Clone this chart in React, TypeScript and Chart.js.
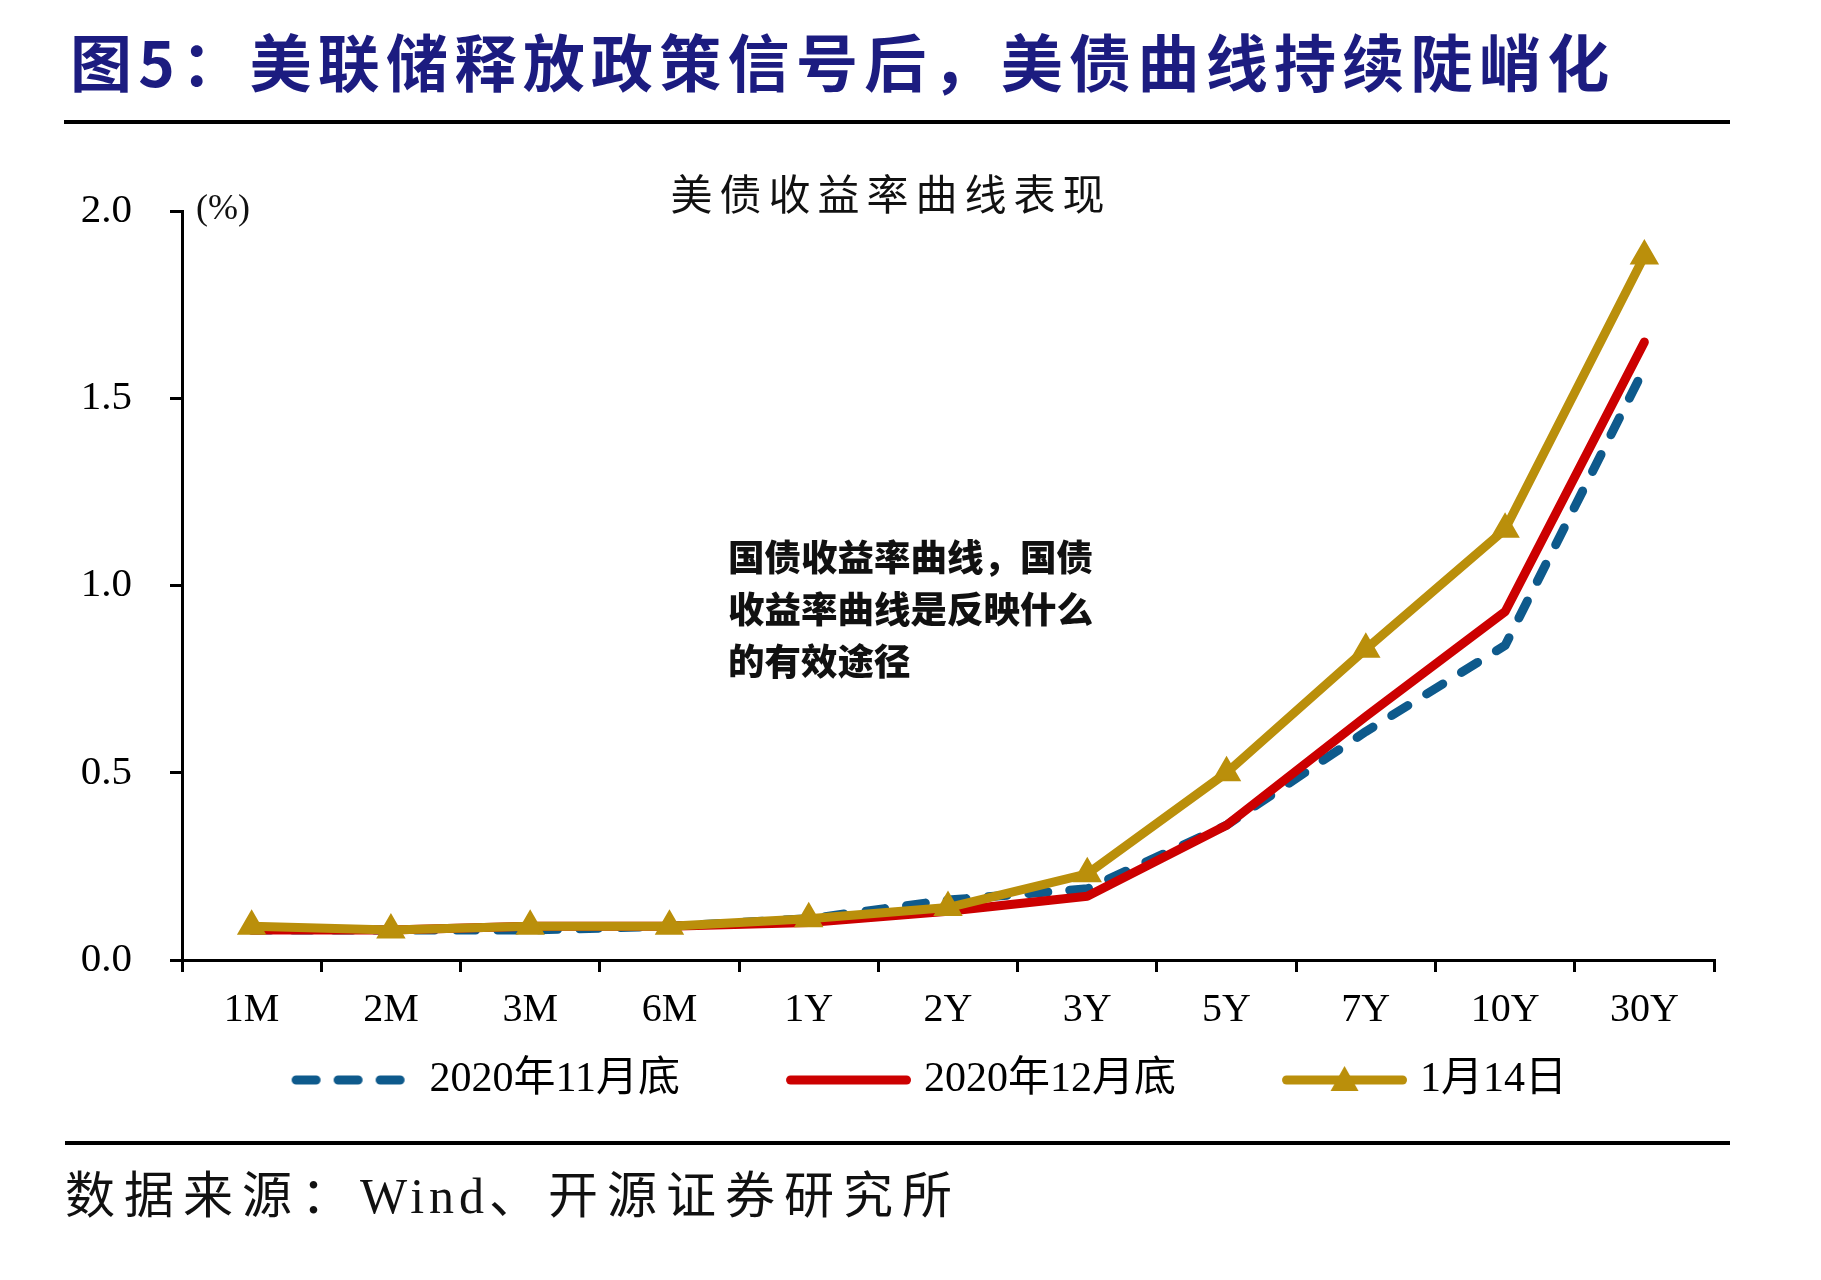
import React, { useEffect, useRef } from 'react';
import { Chart, registerables } from 'chart.js';

Chart.register(...registerables);

// ---- Data ----
const categories = ['1M', '2M', '3M', '6M', '1Y', '2Y', '3Y', '5Y', '7Y', '10Y', '30Y'];
const seriesNov = [0.08, 0.08, 0.08, 0.09, 0.11, 0.16, 0.19, 0.36, 0.61, 0.84, 1.58];
const seriesDec = [0.08, 0.08, 0.09, 0.09, 0.10, 0.13, 0.17, 0.36, 0.65, 0.93, 1.65];
const seriesJan = [0.09, 0.08, 0.09, 0.09, 0.11, 0.14, 0.23, 0.50, 0.83, 1.15, 1.88];
const seriesLabels = ['2020年11月底', '2020年12月底', '1月14日'];
const yTicks = [0, 0.5, 1.0, 1.5, 2.0];

const pageTitle = '图5：美联储释放政策信号后，美债曲线持续陡峭化';
const chartTitle = '美债收益率曲线表现';
const unitLabel = '(%)';
const sourcePrefix = '数据来源：';
const sourceWind = 'Wind';
const sourceSuffix = '、开源证券研究所';
const overlayText = '国债收益率曲线，国债收益率曲线是反映什么的有效途径';

// ---- Styles ----
const BLUE = '#0E5A8C';
const RED = '#CC0000';
const GOLD = '#BA8F0B';
const NAVY = '#1C1C80';
const SERIF = "'Liberation Serif', 'Noto Sans CJK SC', serif";
const CJK = "'Noto Sans CJK SC', sans-serif";

const LEGEND_FONT = 42;
const LEGEND_BOX = 213;
const SYMBOL_EXTRA = 8;
const SYMBOL_LEN = 125;

function makeSymbol(kind: string, color: string): HTMLCanvasElement {
  const w = LEGEND_BOX + 2 * SYMBOL_EXTRA;
  const h = 32;
  const c = document.createElement('canvas');
  c.width = w;
  c.height = h;
  const ctx = c.getContext('2d')!;
  const x0 = w - SYMBOL_LEN;
  const y = h / 2;
  ctx.strokeStyle = color;
  ctx.fillStyle = color;
  ctx.lineWidth = 9;
  ctx.lineCap = 'round';
  if (kind === 'dash') ctx.setLineDash([20, 22]);
  ctx.beginPath();
  ctx.moveTo(x0 + 4.5, y);
  ctx.lineTo(w - 4.5, y);
  ctx.stroke();
  ctx.setLineDash([]);
  if (kind === 'tri') {
    const cx = x0 + SYMBOL_LEN / 2;
    ctx.beginPath();
    ctx.moveTo(cx, y - 14);
    ctx.lineTo(cx + 14, y + 11);
    ctx.lineTo(cx - 14, y + 11);
    ctx.closePath();
    ctx.fill();
  }
  return c;
}

export default function App() {
  const canvasRef = useRef<HTMLCanvasElement | null>(null);

  useEffect(() => {
    if (!canvasRef.current) return;
    const symbols = [makeSymbol('dash', BLUE), makeSymbol('line', RED), makeSymbol('tri', GOLD)];
    const chart = new Chart(canvasRef.current, {
      type: 'line',
      data: {
        labels: categories,
        datasets: [
          {
            label: seriesLabels[0],
            data: seriesNov,
            borderColor: BLUE,
            backgroundColor: BLUE,
            borderWidth: 9,
            borderDash: [19, 22],
            borderCapStyle: 'round',
            borderJoinStyle: 'round',
            pointRadius: 0,
            tension: 0,
            order: 3,
          },
          {
            label: seriesLabels[1],
            data: seriesDec,
            borderColor: RED,
            backgroundColor: RED,
            borderWidth: 9,
            borderCapStyle: 'round',
            borderJoinStyle: 'round',
            pointRadius: 0,
            tension: 0,
            order: 2,
          },
          {
            label: seriesLabels[2],
            data: seriesJan,
            borderColor: GOLD,
            backgroundColor: GOLD,
            borderWidth: 9,
            borderCapStyle: 'butt',
            borderJoinStyle: 'round',
            pointStyle: 'triangle',
            pointRadius: 15,
            pointBorderWidth: 2,
            pointBorderColor: GOLD,
            pointBackgroundColor: GOLD,
            tension: 0,
            order: 1,
          },
        ],
      },
      options: {
        responsive: false,
        animation: false,
        devicePixelRatio: 1,
        layout: { padding: { left: 48.6, right: 107, top: 211, bottom: 0 } },
        plugins: {
          title: { display: false },
          tooltip: { enabled: false },
          legend: {
            display: true,
            position: 'bottom',
            align: 'center',
            labels: {
              usePointStyle: true,
              pointStyleWidth: LEGEND_BOX,
              padding: 10,
              color: '#000',
              font: { family: SERIF, size: LEGEND_FONT },
              generateLabels: (ch: any) => {
                const items = (Chart.defaults.plugins.legend.labels as any).generateLabels(ch);
                items.sort((a: any, b: any) => a.datasetIndex - b.datasetIndex);
                return items.map((it: any) => ({ ...it, pointStyle: symbols[it.datasetIndex] }));
              },
            },
          },
        },
        scales: {
          x: {
            type: 'category',
            offset: true,
            grid: {
              offset: true,
              drawOnChartArea: false,
              drawTicks: true,
              tickLength: 12,
              color: '#000',
              lineWidth: 3,
            },
            border: { display: true, color: '#000', width: 3 },
            ticks: {
              color: '#000',
              font: { family: SERIF, size: 40 },
              padding: 14,
              maxRotation: 0,
              autoSkip: false,
            },
            afterFit: (s: any) => {
              s.height = 89;
            },
          },
          y: {
            min: yTicks[0],
            max: yTicks[yTicks.length - 1],
            afterBuildTicks: (s: any) => {
              s.ticks = yTicks.map((v) => ({ value: v }));
            },
            ticks: {
              color: '#000',
              font: { family: SERIF, size: 41 },
              padding: 38,
              callback: (v: any) => Number(v).toFixed(1),
            },
            grid: {
              drawOnChartArea: false,
              drawTicks: true,
              tickLength: 12,
              color: '#000',
              lineWidth: 3,
            },
            border: { display: true, color: '#000', width: 3 },
            afterFit: (s: any) => {
              s.width = 133.4;
            },
          },
        },
      },
    });
    return () => chart.destroy();
  }, []);

  return (
    <div
      style={{
        position: 'fixed',
        left: 0,
        top: 0,
        width: 1821,
        height: 1280,
        background: '#fff',
        overflow: 'hidden',
      }}
    >
      <div
        style={{
          position: 'absolute',
          left: 70,
          top: 28,
          fontFamily: CJK,
          fontWeight: 700,
          fontSize: 62,
          lineHeight: '64px',
          letterSpacing: 6.3,
          color: NAVY,
          whiteSpace: 'nowrap',
        }}
      >
        {pageTitle}
      </div>
      <div style={{ position: 'absolute', left: 64, top: 120, width: 1666, height: 4, background: '#000' }} />
      <canvas
        ref={canvasRef}
        width={1821}
        height={1111}
        style={{ position: 'absolute', left: 0, top: 0, width: 1821, height: 1111 }}
      />
      <div
        style={{
          position: 'absolute',
          left: 0,
          width: 1782,
          top: 166,
          textAlign: 'center',
          fontFamily: CJK,
          fontSize: 42,
          lineHeight: '52px',
          letterSpacing: 7,
          color: '#111',
          whiteSpace: 'nowrap',
        }}
      >
        {chartTitle}
      </div>
      <div
        style={{
          position: 'absolute',
          left: 196,
          top: 187,
          fontFamily: SERIF,
          fontSize: 36,
          lineHeight: '40px',
          color: '#111',
        }}
      >
        {unitLabel}
      </div>
      <div
        style={{
          position: 'absolute',
          left: 728,
          top: 530,
          width: 374,
          fontFamily: CJK,
          fontWeight: 900,
          fontSize: 36.5,
          lineHeight: '52px',
          color: '#111',
        }}
      >
        {overlayText}
      </div>
      <div style={{ position: 'absolute', left: 65, top: 1141, width: 1665, height: 4, background: '#000' }} />
      <div
        style={{
          position: 'absolute',
          left: 65,
          top: 1168,
          fontFamily: SERIF,
          fontSize: 50,
          lineHeight: '56px',
          color: '#111',
          whiteSpace: 'nowrap',
        }}
      >
        <span style={{ letterSpacing: 9 }}>{sourcePrefix}</span>
        <span style={{ letterSpacing: 5 }}>{sourceWind}</span>
        <span style={{ letterSpacing: 9 }}>{sourceSuffix}</span>
      </div>
    </div>
  );
}
